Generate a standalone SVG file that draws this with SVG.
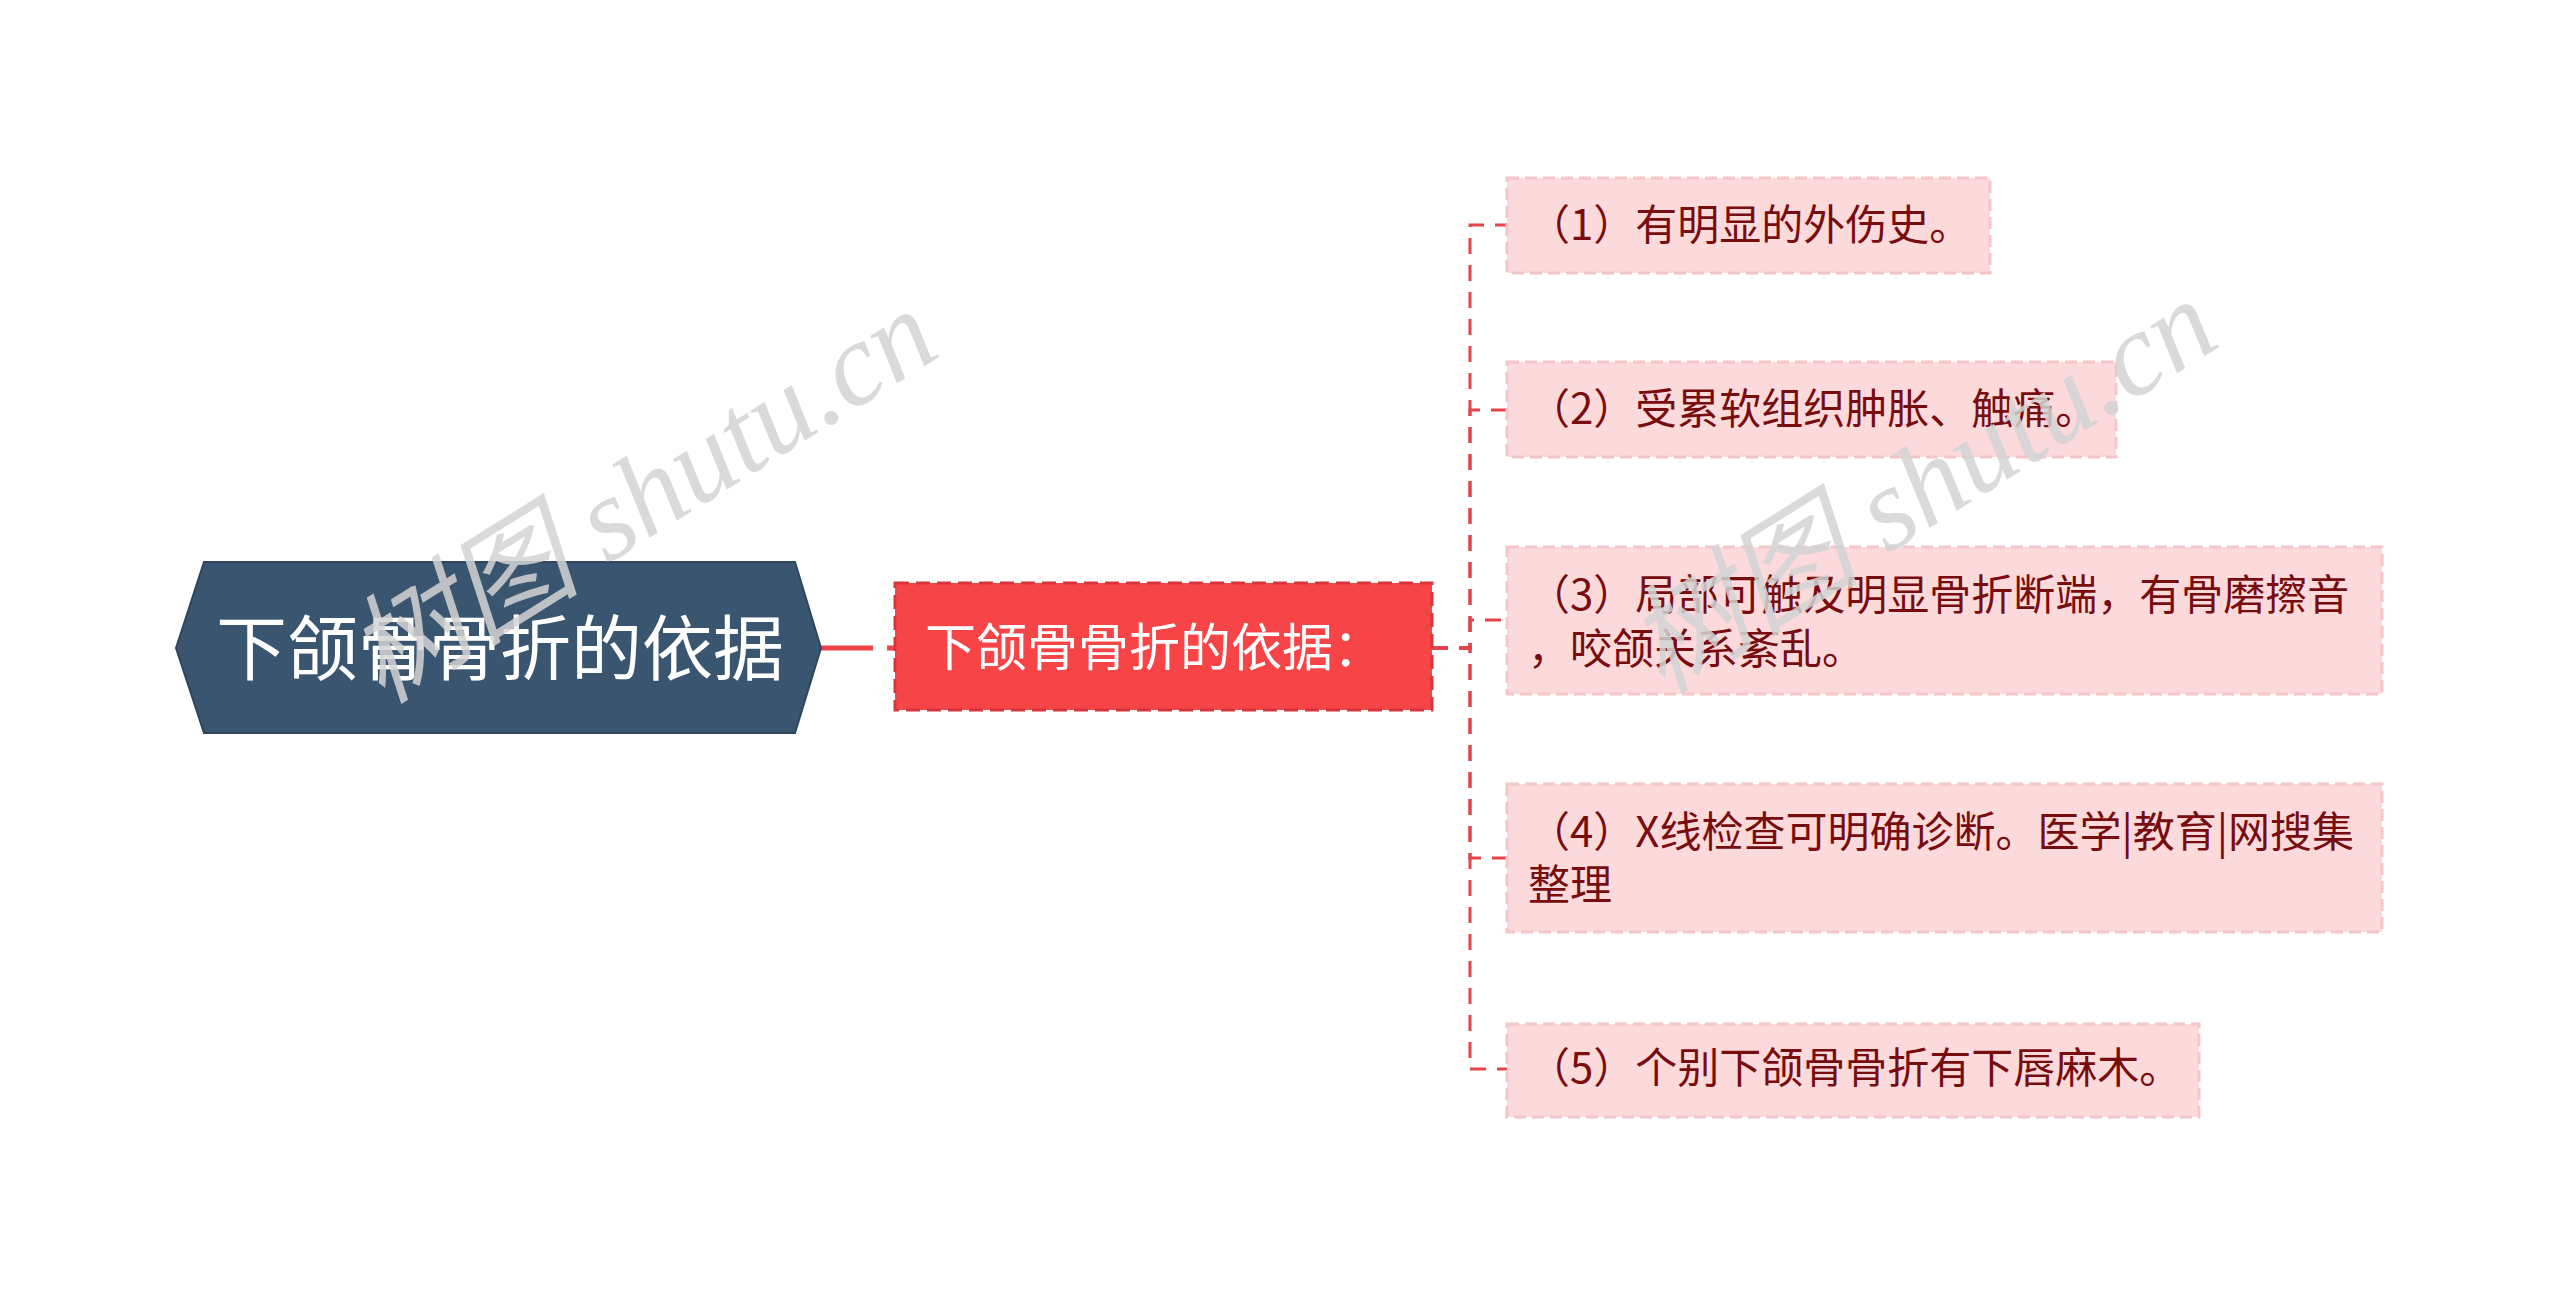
<svg xmlns="http://www.w3.org/2000/svg" width="2560" height="1295" viewBox="0 0 2560 1295">
<style>
.conn{fill:none;stroke:#E4434A;stroke-width:3;stroke-dasharray:16 11}
.leaf{fill:#FCDADB;stroke:#F5C6C8;stroke-width:3;stroke-dasharray:12 6}
.lt{font-family:"Noto Sans CJK SC","Noto Sans",sans-serif;font-size:42px;fill:#780D10}
.wm{font-family:"Liberation Serif","Noto Sans CJK SC",serif;font-style:italic;font-size:118px;fill:#D4D4D4;opacity:0.85}
</style>
<rect width="2560" height="1295" fill="#FFFFFF"/>
<g id="connectors">
<line x1="821" y1="648" x2="895" y2="648" stroke="#EE4449" stroke-width="5" stroke-dasharray="52 14"/>
<path class="conn" d="M1432 648 H1470 V225 H1507"/>
<path class="conn" d="M1432 648 H1470 V410 H1507"/>
<path class="conn" d="M1432 648 H1470 V620 H1507"/>
<path class="conn" d="M1432 648 H1470 V858 H1507"/>
<path class="conn" d="M1432 648 H1470 V1069 H1507"/>
</g>
<g id="root">
<polygon points="176,648 204,562 795,562 821,648 795,733 204,733" fill="#3A5570" stroke="#2E4660" stroke-width="2"/>
<text x="500" y="674" text-anchor="middle" font-family="Noto Sans CJK SC, Noto Sans, sans-serif" font-size="71" fill="#FFFFFF">下颌骨骨折的依据</text>
</g>
<g id="sub">
<rect x="895" y="583" width="537" height="127" fill="#F64447" stroke="#D5363B" stroke-width="3" stroke-dasharray="14 7"/>
<text x="925" y="666" font-family="Noto Sans CJK SC, Noto Sans, sans-serif" font-size="51" fill="#FFFFFF">下颌骨骨折的依据：</text>
</g>
<g id="leaf1">
<rect class="leaf" x="1507" y="178" width="483" height="95"/>
<text class="lt" x="1528" y="240">（1）有明显的外伤史。</text>
</g>
<g id="leaf2">
<rect class="leaf" x="1507" y="362" width="609" height="95"/>
<text class="lt" x="1528" y="424">（2）受累软组织肿胀、触痛。</text>
</g>
<g id="leaf3">
<rect class="leaf" x="1507" y="547" width="875" height="147"/>
<text class="lt" x="1528" y="610">（3）局部可触及明显骨折断端，有骨磨擦音</text>
<text class="lt" x="1528" y="664">，咬颌关系紊乱。</text>
</g>
<g id="leaf4">
<rect class="leaf" x="1507" y="784" width="875" height="148"/>
<text class="lt" x="1528" y="847">（4）X线检查可明确诊断。医学|教育|网搜集</text>
<text class="lt" x="1528" y="900">整理</text>
</g>
<g id="leaf5">
<rect class="leaf" x="1507" y="1024" width="692" height="93"/>
<text class="lt" x="1528" y="1083">（5）个别下颌骨骨折有下唇麻木。</text>
</g>
<g id="watermarks">
<text class="wm" transform="translate(382,705) rotate(-32)">树图 shutu.cn</text>
<text class="wm" transform="translate(1662,695) rotate(-32)">树图 shutu.cn</text>
</g>
</svg>
